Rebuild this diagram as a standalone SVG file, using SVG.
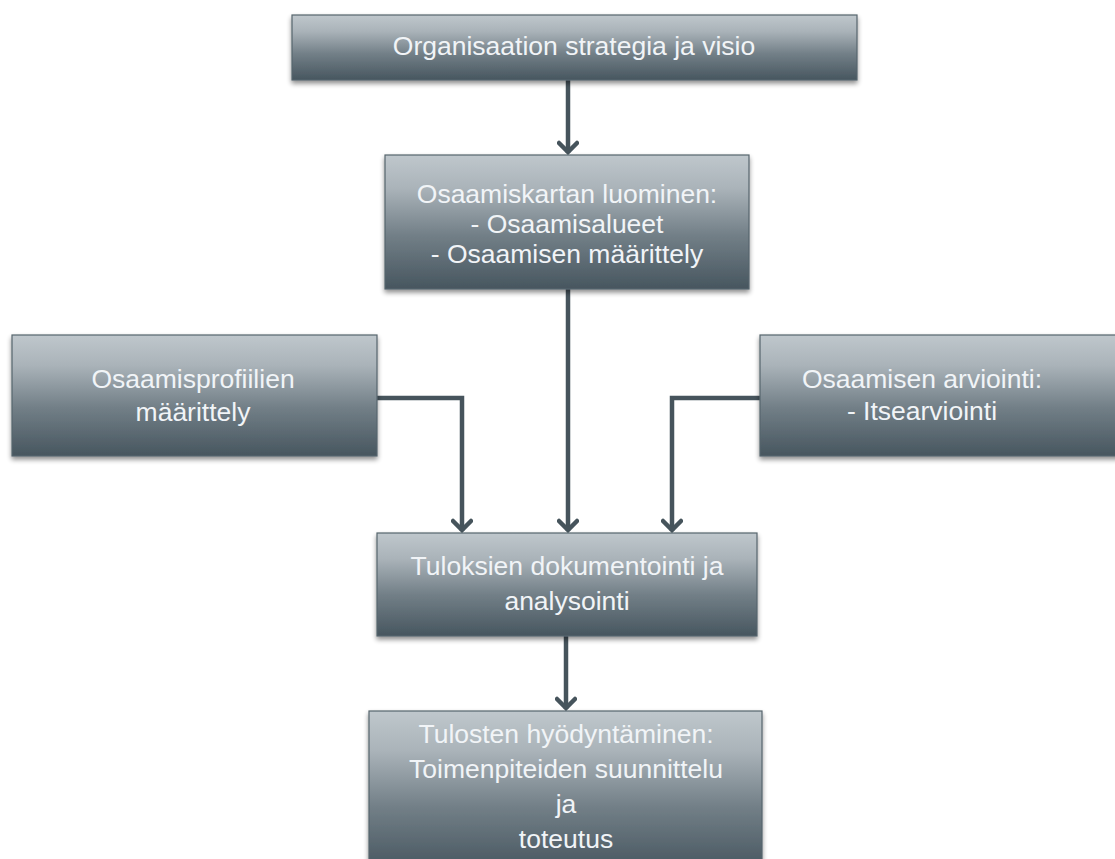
<svg xmlns="http://www.w3.org/2000/svg" width="1115" height="859" viewBox="0 0 1115 859">
  <defs>
    <linearGradient id="boxFill" x1="0" y1="0" x2="0" y2="1">
      <stop offset="0" stop-color="#bfc7cc"/>
      <stop offset="0.25" stop-color="#aab3b9"/>
      <stop offset="0.6" stop-color="#727f87"/>
      <stop offset="1" stop-color="#47565f"/>
    </linearGradient>
    <filter id="shadow" x="-5%" y="-10%" width="110%" height="125%">
      <feGaussianBlur in="SourceAlpha" stdDeviation="2.5"/>
      <feOffset dx="0" dy="3" result="b"/>
      <feComponentTransfer><feFuncA type="linear" slope="0.45"/></feComponentTransfer>
      <feMerge><feMergeNode/><feMergeNode in="SourceGraphic"/></feMerge>
    </filter>
    <!-- open chevron pointing along +x, rotated by the path direction -->
    <marker id="chevron" viewBox="0 0 16 22" refX="14" refY="11" markerWidth="16" markerHeight="22" markerUnits="userSpaceOnUse" orient="auto">
      <path d="M4,2 L13,11 L4,20" fill="none" stroke="#46545c" stroke-width="4.5" stroke-linecap="round" stroke-linejoin="miter"/>
    </marker>
  </defs>
  <style>
    .box { fill: url(#boxFill); stroke: #56656d; stroke-width: 1.2; filter: url(#shadow); }
    .label { font-family: "Liberation Sans", Arial, sans-serif; font-size: 26.5px; fill: #f1f4f7; text-anchor: middle; }
    .conn { fill: none; stroke: #46545c; stroke-width: 4.5; }
  </style>

  <rect width="1115" height="859" fill="#ffffff"/>

  <!-- connectors -->
  <g id="connectors">
    <path class="conn" d="M568,80 V153" marker-end="url(#chevron)"/>
    <path class="conn" d="M568,289 V531" marker-end="url(#chevron)"/>
    <path class="conn" d="M377,398 H462 V531" marker-end="url(#chevron)"/>
    <path class="conn" d="M760,398 H672 V531" marker-end="url(#chevron)"/>
    <path class="conn" d="M566,636 V709" marker-end="url(#chevron)"/>
  </g>

  <g id="strategy">
    <rect class="box" x="292" y="15" width="565" height="65"/>
    <text class="label" x="574" y="55">Organisaation strategia ja visio</text>
  </g>

  <g id="competence-map">
    <rect class="box" x="385" y="155" width="364" height="134"/>
    <text class="label" x="567" y="203">Osaamiskartan luominen:</text>
    <text class="label" x="567" y="233">- Osaamisalueet</text>
    <text class="label" x="567" y="263">- Osaamisen määrittely</text>
  </g>

  <g id="profiles">
    <rect class="box" x="12" y="335" width="365" height="121"/>
    <text class="label" x="193" y="388">Osaamisprofiilien</text>
    <text class="label" x="193" y="421">määrittely</text>
  </g>

  <g id="assessment">
    <rect class="box" x="760" y="335" width="370" height="121"/>
    <text class="label" x="922" y="388">Osaamisen arviointi:</text>
    <text class="label" x="922" y="420">- Itsearviointi</text>
  </g>

  <g id="documentation">
    <rect class="box" x="377" y="533" width="380" height="103"/>
    <text class="label" x="567" y="575">Tuloksien dokumentointi ja</text>
    <text class="label" x="567" y="610">analysointi</text>
  </g>

  <g id="utilisation">
    <rect class="box" x="369" y="711" width="393" height="160"/>
    <text class="label" x="566" y="743">Tulosten hyödyntäminen:</text>
    <text class="label" x="566" y="778">Toimenpiteiden suunnittelu</text>
    <text class="label" x="566" y="813">ja</text>
    <text class="label" x="566" y="848">toteutus</text>
  </g>
</svg>
